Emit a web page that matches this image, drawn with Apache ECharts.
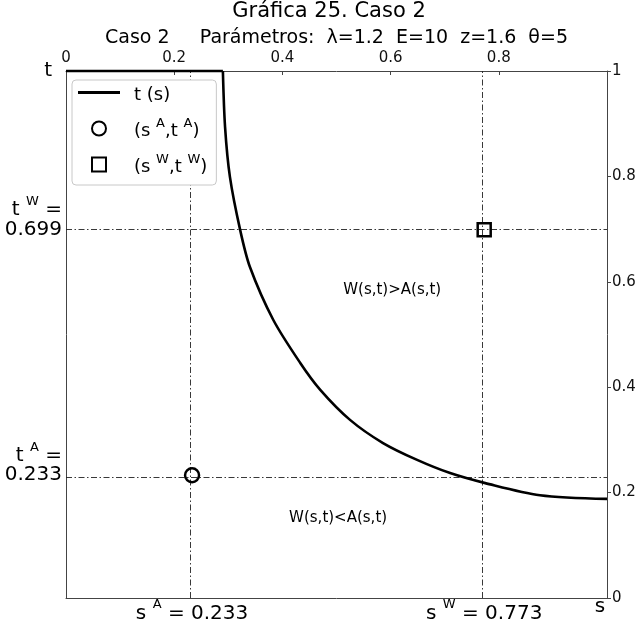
<!DOCTYPE html>
<html><head><meta charset="utf-8">
<script src="https://cdn.jsdelivr.net/npm/echarts@6/dist/echarts.min.js"></script>
<style>html,body{margin:0;padding:0;background:#fff}#c{width:639px;height:626px}</style>
</head><body><div id="c"></div>
<script>
// ---- data ----
const curveS = [0, 0.290, 0.294, 0.303, 0.322, 0.340, 0.383, 0.433, 0.470, 0.525, 0.586, 0.649, 0.710, 0.775, 0.876, 1.0];
const curveT = [1, 1.000, 0.894, 0.799, 0.698, 0.628, 0.528, 0.446, 0.395, 0.338, 0.294, 0.262, 0.237, 0.218, 0.195, 0.188];
const pointA = [0.233, 0.233];
const pointW = [0.773, 0.699];
const xTickLabels = ['0', '0.2', '0.4', '0.6', '0.8', ''];
const yTickLabels = ['0', '0.2', '0.4', '0.6', '0.8', '1'];
const titleText = 'Gráfica 25. Caso 2';
const subtitleText = 'Caso 2     Parámetros:  λ=1.2  E=10  z=1.6  θ=5';
const regionLabels = ['W(s,t)>A(s,t)', 'W(s,t)<A(s,t)'];
const seriesNames = ['t (s)', 'A', 'W'];

// ---- chart ----
const FONT = 'DejaVu Sans';
const AX = '#444';
const curve = curveS.map((s, i) => [s, curveT[i]]);
const flatPart = curve.slice(0, 2);   // t = 1 segment
const fallPart = curve.slice(1);      // decreasing branch
const supRich = (fs, sfs) => ({
  n: {fontFamily: FONT, fontSize: fs, color: '#000', lineHeight: fs + 5, verticalAlign: 'bottom'},
  sup: {fontFamily: FONT, fontSize: sfs, color: '#000', lineHeight: fs + 5, verticalAlign: 'top'}
});
const chart = echarts.init(document.getElementById('c'));
const refLine = {type: [6, 2.5, 1.5, 2.5], color: '#222', width: 0.9};
const markerStyle = {color: 'rgba(0,0,0,0)', borderColor: '#000', borderWidth: 2.5, opacity: 1};
const option = {
  animation: false,
  grid: {left: 66, right: 32, top: 71, bottom: 28},
  xAxis: [
    {type: 'value', min: 0, max: 1, interval: 0.2, position: 'bottom',
     axisLine: {show: true, onZero: false, lineStyle: {color: AX, width: 1}},
     axisTick: {show: false}, axisLabel: {show: false}, splitLine: {show: false}},
    {type: 'value', min: 0, max: 1, interval: 0.2, position: 'top',
     axisLine: {show: true, onZero: false, lineStyle: {color: AX, width: 1}},
     axisTick: {show: true, inside: true, length: 4, lineStyle: {color: AX}},
     axisLabel: {fontFamily: FONT, fontSize: 15, color: '#111', margin: 5,
       formatter: v => xTickLabels[Math.round(v / 0.2)]},
     splitLine: {show: false}}
  ],
  yAxis: [
    {type: 'value', min: 0, max: 1, interval: 0.2, position: 'right',
     axisLine: {show: true, onZero: false, lineStyle: {color: AX, width: 1}},
     axisTick: {show: true, length: 4, lineStyle: {color: AX}},
     axisLabel: {fontFamily: FONT, fontSize: 15, color: '#111', margin: 5,
       formatter: v => yTickLabels[Math.round(v / 0.2)]},
     splitLine: {show: false}},
    {type: 'value', min: 0, max: 1, interval: 0.2, position: 'left',
     axisLine: {show: true, onZero: false, lineStyle: {color: AX, width: 1}},
     axisTick: {show: false}, axisLabel: {show: false}, splitLine: {show: false}}
  ],
  legend: {
    orient: 'vertical', left: 72, top: 80,
    padding: [6, 9, 9, 6],
    itemWidth: 42, itemHeight: 14, itemGap: 13,
    symbolKeepAspect: true,
    borderColor: '#c8c8c8', borderWidth: 1, borderRadius: 4, backgroundColor: '#fff',
    data: [
      {name: seriesNames[0], icon: 'path://M0,0L42,0L42,3L0,3Z'},
      {name: seriesNames[1], icon: 'circle'},
      {name: seriesNames[2], icon: 'path://M0,0L10,0L10,10L0,10Z'}
    ],
    formatter: name => name === 't (s)' ? '{n|t (s)}' : '{n|(s }{sup|' + name + '}{n|,t }{sup|' + name + '}{n|)}',
    textStyle: {fontFamily: FONT, fontSize: 18, color: '#000', padding: [0, 0, 0, 9], rich: supRich(18, 13)}
  },
  series: [
    {name: seriesNames[0], type: 'line', data: flatPart, symbol: 'none', clip: false, z: 4,
     itemStyle: {color: '#000'}, lineStyle: {color: '#000', width: 2.6},
     markLine: {silent: true, symbol: 'none', label: {show: false}, lineStyle: refLine, z: 1,
       data: [{xAxis: pointA[0]}, {xAxis: pointW[0]}, {yAxis: pointA[1]}, {yAxis: pointW[1]}]}},
    {name: seriesNames[0], type: 'line', data: fallPart, symbol: 'none', clip: false, z: 4,
     smooth: 0.3,
     itemStyle: {color: '#000'}, lineStyle: {color: '#000', width: 2.6}},
    {name: seriesNames[1], type: 'scatter', data: [pointA], symbol: 'circle', symbolSize: 14, z: 5,
     itemStyle: markerStyle},
    {name: seriesNames[2], type: 'scatter', data: [pointW], symbol: 'rect', symbolSize: 13, z: 5,
     itemStyle: markerStyle}
  ]
};
chart.setOption(option);

const px = (s, t) => chart.convertToPixel({xAxisIndex: 0, yAxisIndex: 0}, [s, t]);
const txt = (x, y, text, fs, align, valign, rich) => ({
  type: 'text', x: x, y: y, z: 10,
  style: {text: text, fill: '#000', font: fs + 'px "' + FONT + '"', textAlign: align,
          textVerticalAlign: valign, rich: rich}
});
const o = px(0, 0), tr = px(1, 1);
const pA = px(pointA[0], pointA[1]), pW = px(pointW[0], pointW[1]);
const r20 = supRich(20, 13);
const g = [
  txt(329, 12, titleText, 21, 'center', 'middle'),
  txt((o[0] + tr[0]) / 2, 38, subtitleText, 19, 'center', 'middle'),
  txt(o[0] - 14, tr[1], 't', 20, 'right', 'middle'),
  txt(tr[0] - 7, o[1] + 9, 's', 20, 'center', 'middle'),
  txt(pA[0], o[1] + 13, '{n|s }{sup|A}{n| = ' + pointA[0].toFixed(3) + '}', 20, 'center', 'middle', r20),
  txt(pW[0], o[1] + 13, '{n|s }{sup|W}{n| = ' + pointW[0].toFixed(3) + '}', 20, 'center', 'middle', r20),
  txt(o[0] - 4, pW[1] - 22, '{n|t }{sup|W}{n| =}', 20, 'right', 'middle', r20),
  txt(o[0] - 4, pW[1], pointW[1].toFixed(3), 20, 'right', 'middle'),
  txt(o[0] - 4, pA[1] - 22, '{n|t }{sup|A}{n| =}', 20, 'right', 'middle', r20),
  txt(o[0] - 4, pA[1], pointA[1].toFixed(3), 20, 'right', 'middle')
];
const l1 = px(0.603, 0.584), l2 = px(0.503, 0.152);
g.push(txt(l1[0], l1[1], regionLabels[0], 15, 'center', 'middle'));
g.push(txt(l2[0], l2[1], regionLabels[1], 15, 'center', 'middle'));
chart.setOption({graphic: g});
</script>
</body></html>
